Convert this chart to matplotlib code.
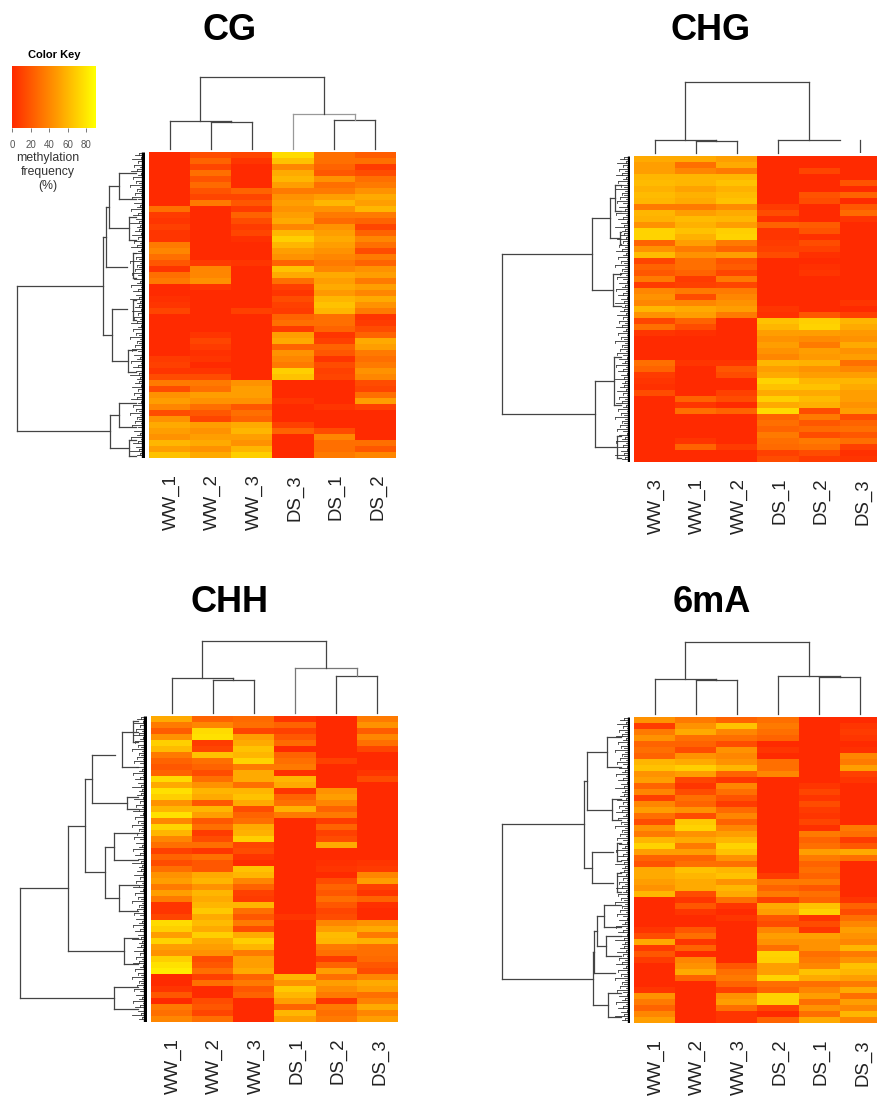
import numpy as np
import matplotlib
matplotlib.use('Agg')
import matplotlib.pyplot as plt
from matplotlib.colors import LinearSegmentedColormap
from matplotlib.transforms import ScaledTranslation

plt.rcParams['font.family'] = ['Liberation Sans', 'DejaVu Sans']

# methylation frequency (%), one list per column, rows top to bottom
cg_labels = ['WW_1', 'WW_2', 'WW_3', 'DS_3', 'DS_1', 'DS_2']
cg_ww1 = [0,0,0,0,0,0,0,0,0,30, 8,5,10,5,5,35,40,30,20,5, 30,35,0,0,3,5,12,0,0,0, 0,0,0,0,8,10,5,15,35,15, 45,50,40,15,45,55,50,45,60,50, 65]
cg_ww2 = [15,25,12,30,18,28,18,12,35,0, 0,0,0,0,0,0,0,0,8,40, 40,45,5,0,0,0,0,0,0,0, 5,12,8,3,5,0,5,15,35,30, 50,45,30,20,12,50,45,50,55,45, 55]
cg_ww3 = [12,5,0,0,0,0,25,12,20,8, 25,15,8,12,3,0,0,0,5,0, 0,0,0,0,0,0,10,0,0,0, 0,0,0,0,0,0,0,0,45,50, 50,45,20,30,25,55,60,50,45,60, 70]
cg_ds3 = [75,65,40,55,60,50,35,45,50,45, 50,55,40,60,70,60,50,45,25,65, 55,30,10,5,15,10,8,25,30,8, 50,55,25,45,40,35,70,65,0,0, 0,5,0,0,0,10,25,0,0,0, 0]
cg_ds1 = [30,30,25,20,45,30,35,50,60,45, 35,28,45,50,55,50,45,40,35,40, 55,50,55,48,60,65,60,30,30,25, 5,10,25,20,5,15,10,12,0,0, 0,0,5,0,0,0,15,40,30,30, 35]
cg_ds2 = [22,30,8,15,30,35,45,55,50,60, 35,25,12,25,40,30,15,35,25,45, 50,35,50,40,55,45,35,5,8,15, 25,55,50,35,30,35,45,40,15,12, 30,50,10,0,0,0,0,0,30,20, 40]

chg_labels = ['WW_3', 'WW_1', 'WW_2', 'DS_1', 'DS_2', 'DS_3']
chg_ww3 = [55,50,50,60,62,58,62,60,35,60, 58,45,72,72,25,45,62,12,25,20, 35,8,40,45,40,60,45,12,30,5, 0,0,0,0,30,25,8,5,3,15, 0,0,0,0,0,0,0,0,0,0, 0]
chg_ww1 = [55,30,40,60,60,52,58,55,35,50, 62,58,65,58,50,35,45,30,30,25, 8,10,35,15,40,55,50,25,15,3, 0,0,0,0,5,0,0,0,0,0, 25,5,30,0,0,0,0,5,25,0, 0]
chg_ww2 = [50,55,35,60,65,58,62,65,42,55, 60,50,70,72,35,25,50,18,22,12, 35,12,35,40,45,50,35,0,0,0, 0,0,0,0,5,20,15,0,0,10, 15,0,25,0,0,0,0,0,8,0, 0]
chg_ds1 = [0,0,0,0,0,0,0,0,8,15, 3,25,5,5,8,10,15,0,0,0, 0,0,0,0,0,5,3,65,60,50, 45,50,45,40,60,50,55,72,65,55, 70,55,75,25,30,25,35,30,28,10, 15]
chg_ds2 = [0,0,12,0,0,0,18,15,0,0, 0,22,18,3,15,10,3,0,3,5, 0,0,0,0,0,0,20,70,72,50, 42,35,50,48,58,45,50,60,65,55, 62,58,15,35,20,28,15,35,30,15, 8]
chg_ds3 = [0,0,0,0,18,0,25,0,20,28, 5,0,0,0,0,0,0,0,0,0, 0,0,0,0,5,0,10,60,55,48, 45,55,45,50,30,40,50,60,55,50, 50,45,50,15,25,30,20,30,10,3, 5]

chh_labels = ['WW_1', 'WW_2', 'WW_3', 'DS_1', 'DS_2', 'DS_3']
chh_ww1 = [55,35,22,45,70,62,35,25,20,25, 75,55,78,70,45,60,78,40,72,60, 40,30,10,25,15,30,45,50,35,50, 35,5,5,12,75,70,50,72,50,45, 70,78,82,0,0,5,20,0,35,30, 40]
chh_ww2 = [25,40,75,78,8,12,65,30,25,15, 30,45,60,55,20,60,50,20,30,8, 15,30,5,30,20,20,55,60,45,60, 55,60,68,55,62,55,70,55,50,45, 15,20,30,10,30,0,0,15,20,12, 30]
chh_ww3 = [28,30,12,50,55,65,60,72,35,55, 55,30,60,65,55,15,25,30,55,58, 70,12,15,5,0,65,60,40,25,10, 8,60,30,20,35,15,55,70,60,35, 50,50,55,25,35,20,25,0,0,0, 0]
chh_ds1 = [5,25,10,20,28,0,25,30,35,3, 60,55,5,25,30,58,35,0,0,0, 0,0,0,0,0,0,0,0,0,0, 0,0,0,5,0,0,0,0,0,0, 0,0,0,60,45,68,60,50,25,60, 50]
chh_ds2 = [0,0,0,0,0,0,0,10,0,0, 0,0,45,50,40,25,35,8,25,10, 15,55,0,0,3,5,0,15,25,20, 30,20,12,15,40,50,62,60,35,30, 8,25,50,30,50,42,35,5,35,30, 35]
chh_ds3 = [35,45,22,40,30,12,0,0,0,5, 15,0,0,0,0,0,0,0,0,0, 0,0,0,0,5,8,40,50,10,5, 25,3,0,0,45,55,35,58,30,30, 28,20,15,40,55,50,30,38,55,40, 50]

m6a_labels = ['WW_1', 'WW_2', 'WW_3', 'DS_2', 'DS_1', 'DS_3']
m6a_ww1 = [45,8,35,45,25,30,25,60,65,45, 50,25,40,10,40,50,30,15,45,35, 60,72,50,25,18,55,55,50,45,60, 0,0,0,0,0,5,15,55,8,20, 8,0,0,0,0,5,45,35,25,40, 50]
m6a_ww2 = [35,45,55,30,25,15,45,55,70,50, 12,5,15,30,25,45,15,68,72,45, 55,35,50,25,30,65,60,55,55,15, 5,20,5,0,0,20,30,5,25,0, 40,45,55,25,0,0,0,0,0,0, 0]
m6a_ww3 = [25,65,40,30,15,45,40,45,60,25, 5,40,30,18,8,28,40,25,40,50, 60,72,65,45,30,60,65,45,60,55, 30,5,0,5,0,0,0,0,0,0, 0,20,30,35,25,10,45,50,30,5, 5]
m6a_ds2 = [30,35,30,25,0,5,0,30,30,40, 0,0,0,0,0,0,0,0,0,0, 0,0,0,0,0,0,8,35,25,35, 10,55,50,20,15,40,50,45,30,72, 70,50,50,72,30,25,72,72,12,0, 25]
m6a_ds1 = [0,0,0,0,0,0,0,0,0,0, 0,5,12,5,15,8,5,12,3,35, 25,30,50,35,25,30,25,35,20,30, 25,65,72,5,15,5,50,45,45,30, 35,40,65,55,30,40,50,30,45,30, 55]
m6a_ds3 = [0,5,8,5,0,3,40,35,50,10, 5,0,0,0,0,0,0,0,35,30, 8,20,55,30,0,0,0,0,0,0, 5,25,15,30,40,50,45,40,60,35, 45,65,60,50,35,55,30,50,40,60, 40]

# column trees: (merge height, left, right), leaves are column positions
cg_col_tree = (72, (28, 0.5, (27, 1.5, 2.5)), (35, 3.5, (29, 4.5, 5.5), '#999999'))
chg_col_tree = (71, (13, 0.5, (12, 1.5, 2.5)), (13, 3.5, (5.0, 13)))
chh_col_tree = (72, (35, 0.5, (33, 1.5, 2.5)), (45, 3.5, (37, 4.5, 5.5), '#777777'))
m6a_col_tree = (72, (35, 0.5, (34, 1.5, 2.5)), (38, 3.5, (37, 4.5, 5.5)))
chg_col_stubs = [(5.5, 13)]

# row trees: leaves are row positions, a pair (row, height) is a leaf ending early
cg_row_tree = (128,
               (42, (39, (36, (26, 3.5, 7.8), (16, 10.8, 14.7)), (19.2, 18)), (33, (26.2, 18), (17, 33.0, 36.7))),
               (35, (26, 41.8, 45.8), (16, 48.0, 50.7)))
chg_row_tree = (128,
                (38, (20, (15, 4.8, 9.2), (10, 12.7, 14.7)), (17, 19.7, 25.0)),
                (35, (16, 33.5, 41.5), (13, 46.7, 50.3)))
chh_row_tree = (127,
                (79, (62, (55, (6.5, 32), (20, 13.5, 15.5)), (42, (33, 19.5, 24.0), (28, 28.2, 32.5))), (23, 37.0, 41.3)),
                (33, 45.2, 48.8))
m6a_row_tree = (128,
                (46, (43, (23, 3.3, 8.3), (18, 13.7, 17.2)), (38, (22.5, 17), (27.7, 17))),
                (37, (36, (33, (26, 31.3, 35.0), (24, 36.5, 39.8)), (42.7, 15)), (22, 46.0, 50.0)))

# pieces whose stem has faded out in the picture
cg_row_extras = [(12, 16.8, 21.0), (12, 24.6, 28.0)]
chg_row_extras = []
chh_row_extras = [(25, 2.7, 8.5), (14, 0.8, 4.4)]
m6a_row_extras = [(13, 21.0, 24.0), (13, 26.0, 29.2)]

# small twigs next to the black leaf bar, height of each fine merge
twig_heights = [6, 10, 4, 13, 7, 3, 11, 5, 8, 14, 4, 7, 12, 3, 9, 6, 15, 5, 8]

n_rows = 51
W, H = 878, 1101
key_ticks = [0, 20, 40, 60, 80]
key_max = 90.8

cmap = LinearSegmentedColormap.from_list('heat_key', ['#ff2a00', '#ff9200', '#ffff00'])
line_col = '#444444'


def ax_px(x0, y0, x1, y1):
    return fig.add_axes([x0 / W, 1 - y1 / H, (x1 - x0) / W, (y1 - y0) / H])


def draw_tree(ax, node, horizontal, leaf_end):
    # returns position of the node along the leaf axis, and its height
    if not isinstance(node, tuple):
        return node, leaf_end
    if len(node) == 2:
        return node[0], node[1]
    h = node[0]
    pos = []
    col = node[3] if len(node) > 3 else line_col
    for child in node[1:3]:
        p, ch = draw_tree(ax, child, horizontal, leaf_end)
        pos.append(p)
        if horizontal:
            ax.plot([ch, h], [p, p], color=col, lw=0.9, clip_on=False)
        else:
            ax.plot([p, p], [ch, h], color=col, lw=0.9, clip_on=False)
    if horizontal:
        ax.plot([h, h], pos, color=col, lw=0.9, clip_on=False)
    else:
        ax.plot(pos, [h, h], color=col, lw=0.9, clip_on=False)
    return sum(pos) / 2, h


def draw_panel(title, title_xy, columns, labels, col_tree, row_tree, x0, y0, stubs=(), extras=()):
    x1 = x0 + 247
    y1 = y0 + 306
    data = np.array(columns).T

    ax = ax_px(x0, y0, x1, y1)
    ax.imshow(data, aspect='auto', cmap=cmap, vmin=0, vmax=90, interpolation='nearest')
    ax.set_yticks([])
    ax.set_xticks(np.arange(6))
    ax.set_xticklabels(labels, rotation=90, fontsize=13.4, color='#222222', va='top')
    ax.tick_params(axis='x', length=0, pad=11.5)
    offset = ScaledTranslation(2 / 100, 0, fig.dpi_scale_trans)
    for lab in ax.get_xticklabels():
        lab.set_transform(lab.get_transform() + offset)
    for s in ax.spines.values():
        s.set_visible(False)

    # column dendrogram
    top = ax_px(x0, y0 - 78, x1, y0 - 3)
    top.set_xlim(0, 6)
    top.set_ylim(0, 75)
    draw_tree(top, col_tree, False, 0)
    for p, h in stubs:
        top.plot([p, p], [0, h], color=line_col, lw=0.9)
    top.axis('off')

    # row dendrogram
    side = ax_px(x0 - 133, y0, x0 - 4, y1)
    side.set_xlim(129, 0)
    side.set_ylim(n_rows, 0)
    draw_tree(side, row_tree, True, 9)
    for node in extras:
        draw_tree(side, node, True, 9)
    fine = np.arange(0.2, n_rows, 1 / 3)
    for i, r in enumerate(fine[:-1]):
        t = twig_heights[i % len(twig_heights)]
        side.plot([0, t], [r, r], color='#333333', lw=0.6)
        if i % 2 == 0:
            side.plot([t, t], [r, fine[i + 1]], color='#444444', lw=0.6)
    side.plot([1.5, 1.5], [0, n_rows], color='black', lw=2.4, solid_capstyle='butt')
    side.axis('off')

    fig.text(title_xy[0] / W, 1 - title_xy[1] / H, title, fontsize=26, fontweight='bold',
             ha='center', va='center', color='black')


fig = plt.figure(figsize=(W / 100, H / 100), dpi=100)

draw_panel('CG', (230, 31), [cg_ww1, cg_ww2, cg_ww3, cg_ds3, cg_ds1, cg_ds2], cg_labels,
           cg_col_tree, cg_row_tree, 149, 152, extras=cg_row_extras)
draw_panel('CHG', (711, 31), [chg_ww3, chg_ww1, chg_ww2, chg_ds1, chg_ds2, chg_ds3], chg_labels,
           chg_col_tree, chg_row_tree, 634, 156, chg_col_stubs, chg_row_extras)
draw_panel('CHH', (230, 602), [chh_ww1, chh_ww2, chh_ww3, chh_ds1, chh_ds2, chh_ds3], chh_labels,
           chh_col_tree, chh_row_tree, 151, 716, extras=chh_row_extras)
draw_panel('6mA', (712, 603), [m6a_ww1, m6a_ww2, m6a_ww3, m6a_ds2, m6a_ds1, m6a_ds3], m6a_labels,
           m6a_col_tree, m6a_row_tree, 634, 717, extras=m6a_row_extras)

# colour key
key = ax_px(12, 66, 96, 128)
key.imshow(np.linspace(0, key_max, 256).reshape(1, -1), aspect='auto', cmap=cmap, vmin=0, vmax=90,
           extent=(0, key_max, 0, 1))
key.set_yticks([])
key.set_xticks(key_ticks)
key.tick_params(axis='x', length=3, width=0.5, labelsize=7, pad=6, labelcolor='#555555', color='#444444')
for s in key.spines.values():
    s.set_visible(False)
fig.text(54 / W, 1 - 55.5 / H, 'Color Key', fontsize=8, fontweight='bold', ha='center', va='center')
fig.text(48 / W, 1 - 172 / H, 'methylation\nfrequency\n(%)', fontsize=8.8, ha='center', va='center',
         color='#333333', linespacing=1.25)

fig.savefig('out.png', dpi=100)
